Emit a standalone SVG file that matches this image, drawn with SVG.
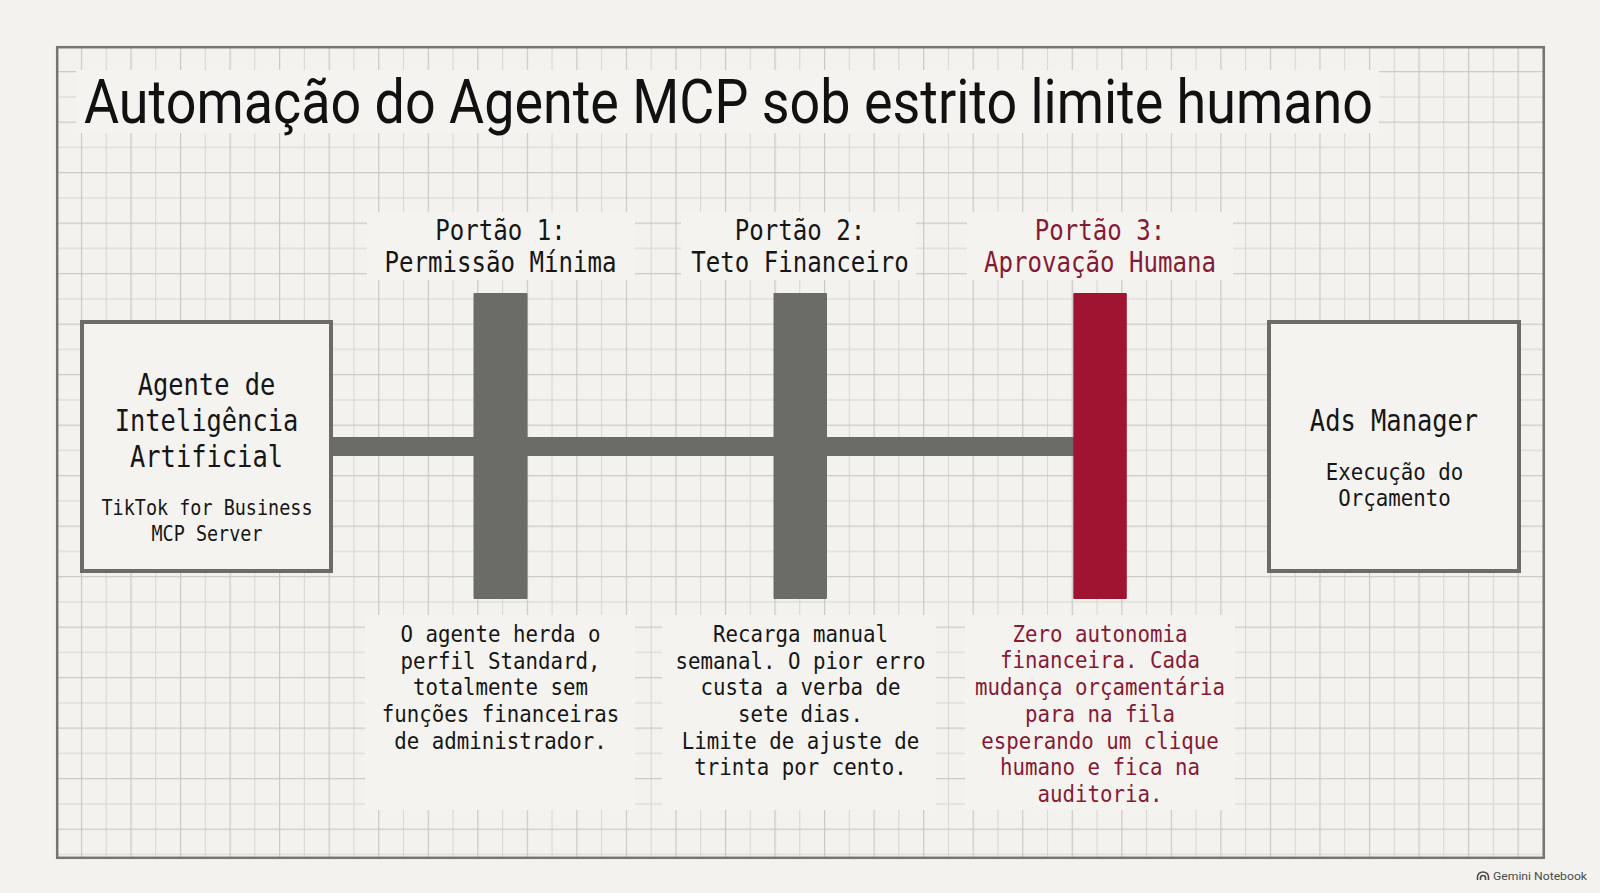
<svg xmlns="http://www.w3.org/2000/svg" width="1600" height="893" viewBox="0 0 1600 893">
  <defs>
    <pattern id="grid" patternUnits="userSpaceOnUse" x="80.9" y="71.1" width="49.54" height="50.5">
      <rect x="0" y="25.25" width="49.54" height="1.1" fill="#d7d7d3"/>
      <rect x="24.77" y="0" width="1.1" height="50.5" fill="#d7d7d3"/>
      <rect x="0" y="0" width="49.54" height="1.2" fill="#c8c8c4"/>
      <rect x="0" y="0" width="1.2" height="50.5" fill="#c8c8c4"/>
    </pattern>
    <style>
      .bg { fill: #f3f2ee; }
      .mask { fill: #f4f3ef; }
      .frame { fill: none; stroke: #757572; stroke-width: 2.5; }
      .box { fill: #f4f3ef; stroke: #6b6c68; stroke-width: 4; }
      .bar { fill: #6b6c68; }
      .barred { fill: #9f1431; }
      .title { font-family: Roboto, "Liberation Sans", Arial, sans-serif; font-size: 61px; fill: #111111; }
      .mono { font-family: "DejaVu Sans Mono", "Liberation Mono", monospace; text-anchor: middle; }
      .ink { fill: #161616; }
      .red { fill: #851a35; }
      .ntitle { font-size: 31px; }
      .glabel { font-size: 29px; }
      .desc { font-size: 23px; }
      .sub { font-size: 22px; }
      .wm { font-family: Roboto, "Liberation Sans", Arial, sans-serif; font-size: 11px; fill: #4a4a4a; }
    </style>
  </defs>

  <!-- page background -->
  <rect class="bg" x="0" y="0" width="1600" height="893"/>
  <rect x="57" y="47" width="1487" height="811" fill="url(#grid)"/>

  <!-- text backdrops hiding the grid -->
  <g id="backdrops">
    <rect class="mask" x="76" y="70" width="1303" height="63"/>
    <rect class="mask" x="367" y="212" width="268" height="68"/>
    <rect class="mask" x="681" y="212" width="235" height="68"/>
    <rect class="mask" x="967" y="212" width="266" height="68"/>
    <rect class="mask" x="365" y="615" width="270" height="195"/>
    <rect class="mask" x="662" y="615" width="274" height="195"/>
    <rect class="mask" x="965" y="615" width="270" height="195"/>
  </g>

  <rect class="frame" x="57.2" y="47.2" width="1486.6" height="810.6"/>

  <text class="title" x="84" y="123" textLength="1289" lengthAdjust="spacingAndGlyphs">Automação do Agente MCP sob estrito limite humano</text>

  <!-- connectors -->
  <g id="connectors">
    <rect class="bar" x="331" y="437" width="743" height="19"/>
  </g>

  <!-- left node -->
  <g id="node-agent">
    <rect class="box" x="82" y="322" width="249" height="249"/>
    <text class="mono ink ntitle" x="206.5" y="394.5" textLength="137.7" lengthAdjust="spacingAndGlyphs">Agente de</text>
    <text class="mono ink ntitle" x="206.5" y="430.7" textLength="183.6" lengthAdjust="spacingAndGlyphs">Inteligência</text>
    <text class="mono ink ntitle" x="206.5" y="466.8" textLength="153" lengthAdjust="spacingAndGlyphs">Artificial</text>
    <text class="mono ink sub" x="207" y="515" textLength="211" lengthAdjust="spacingAndGlyphs">TikTok for Business</text>
    <text class="mono ink sub" x="207" y="541" textLength="111" lengthAdjust="spacingAndGlyphs">MCP Server</text>
  </g>

  <!-- gate 1 -->
  <g id="gate-1">
    <rect class="bar" x="473.5" y="293" width="54" height="306" rx="1"/>
    <text class="mono ink glabel" x="500.5" y="240" textLength="130.5" lengthAdjust="spacingAndGlyphs">Portão 1:</text>
    <text class="mono ink glabel" x="500.5" y="271.5" textLength="232" lengthAdjust="spacingAndGlyphs">Permissão Mínima</text>
    <text class="mono ink desc" x="500.5" y="641.7" textLength="200" lengthAdjust="spacingAndGlyphs">O agente herda o</text>
    <text class="mono ink desc" x="500.5" y="668.5" textLength="200" lengthAdjust="spacingAndGlyphs">perfil Standard,</text>
    <text class="mono ink desc" x="500.5" y="695.2" textLength="175" lengthAdjust="spacingAndGlyphs">totalmente sem</text>
    <text class="mono ink desc" x="500.5" y="722" textLength="237.5" lengthAdjust="spacingAndGlyphs">funções financeiras</text>
    <text class="mono ink desc" x="500.5" y="748.7" textLength="212.5" lengthAdjust="spacingAndGlyphs">de administrador.</text>
  </g>

  <!-- gate 2 -->
  <g id="gate-2">
    <rect class="bar" x="773.5" y="293" width="53.5" height="306" rx="1"/>
    <text class="mono ink glabel" x="800" y="240" textLength="130.5" lengthAdjust="spacingAndGlyphs">Portão 2:</text>
    <text class="mono ink glabel" x="800" y="271.5" textLength="217.5" lengthAdjust="spacingAndGlyphs">Teto Financeiro</text>
    <text class="mono ink desc" x="800.5" y="641.7" textLength="175" lengthAdjust="spacingAndGlyphs">Recarga manual</text>
    <text class="mono ink desc" x="800.5" y="668.5" textLength="250" lengthAdjust="spacingAndGlyphs">semanal. O pior erro</text>
    <text class="mono ink desc" x="800.5" y="695.2" textLength="200" lengthAdjust="spacingAndGlyphs">custa a verba de</text>
    <text class="mono ink desc" x="800.5" y="722" textLength="125" lengthAdjust="spacingAndGlyphs">sete dias.</text>
    <text class="mono ink desc" x="800.5" y="748.7" textLength="237.5" lengthAdjust="spacingAndGlyphs">Limite de ajuste de</text>
    <text class="mono ink desc" x="800.5" y="775.4" textLength="212.5" lengthAdjust="spacingAndGlyphs">trinta por cento.</text>
  </g>

  <!-- gate 3 -->
  <g id="gate-3">
    <rect class="barred" x="1073.3" y="293" width="53.5" height="306" rx="1"/>
    <text class="mono red glabel" x="1100" y="240" textLength="130.5" lengthAdjust="spacingAndGlyphs">Portão 3:</text>
    <text class="mono red glabel" x="1100" y="271.5" textLength="232" lengthAdjust="spacingAndGlyphs">Aprovação Humana</text>
    <text class="mono red desc" x="1100" y="641.7" textLength="175" lengthAdjust="spacingAndGlyphs">Zero autonomia</text>
    <text class="mono red desc" x="1100" y="668.4" textLength="200" lengthAdjust="spacingAndGlyphs">financeira. Cada</text>
    <text class="mono red desc" x="1100" y="695.1" textLength="250" lengthAdjust="spacingAndGlyphs">mudança orçamentária</text>
    <text class="mono red desc" x="1100" y="721.8" textLength="150" lengthAdjust="spacingAndGlyphs">para na fila</text>
    <text class="mono red desc" x="1100" y="748.5" textLength="237.5" lengthAdjust="spacingAndGlyphs">esperando um clique</text>
    <text class="mono red desc" x="1100" y="775.2" textLength="200" lengthAdjust="spacingAndGlyphs">humano e fica na</text>
    <text class="mono red desc" x="1100" y="801.9" textLength="125" lengthAdjust="spacingAndGlyphs">auditoria.</text>
  </g>

  <!-- right node -->
  <g id="node-ads">
    <rect class="box" x="1269" y="322" width="250" height="249"/>
    <text class="mono ink ntitle" x="1394" y="431" textLength="168.3" lengthAdjust="spacingAndGlyphs">Ads Manager</text>
    <text class="mono ink desc" x="1394.5" y="480" textLength="137.5" lengthAdjust="spacingAndGlyphs">Execução do</text>
    <text class="mono ink desc" x="1394.5" y="506" textLength="112.5" lengthAdjust="spacingAndGlyphs">Orçamento</text>
  </g>

  <!-- watermark -->
  <g id="watermark">
    <path d="M1477.5 880 V877 A5.5 5 0 0 1 1488.5 877 V880 M1480.5 880 V878 A2.5 2.5 0 0 1 1485.5 878 V880" fill="none" stroke="#4a4a4a" stroke-width="1.6"/>
    <text class="wm" x="1493" y="879.5" textLength="94" lengthAdjust="spacingAndGlyphs">Gemini Notebook</text>
  </g>
</svg>
